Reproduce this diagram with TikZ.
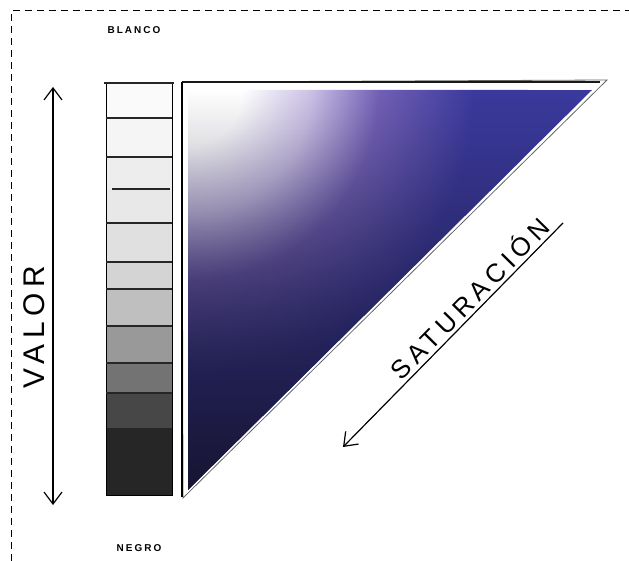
\documentclass[tikz,border=0pt]{standalone}
\usepackage{fontspec}
\setmainfont{Liberation Sans}
\newfontfamily\handfont{Liberation Sans}[LetterSpace=20]
\usetikzlibrary{arrows.meta,fadings}
\definecolor{satblue}{HTML}{3B3A9E}
\definecolor{satlilac}{HTML}{CCC2E8}
\definecolor{satpurple}{HTML}{7260B6}
\definecolor{satnavy}{HTML}{15132C}
\pgfdeclareradialshading{satglow}{\pgfpoint{0bp}{0bp}}{color(0bp)=(white); color(4bp)=(white); color(9bp)=(satlilac); color(14bp)=(satpurple); color(21bp)=(satblue); color(50bp)=(satblue)}
\tikzfading[name=darkdown, top color=transparent!100, middle color=transparent!70, bottom color=transparent!5]
\begin{document}
\begin{tikzpicture}[x=1bp,y=-1bp,
  valarrow/.style={line width=1.2bp, {Straight Barb[length=12bp,width=18bp]}-{Straight Barb[length=12bp,width=18bp]}},
  satarrow/.style={line width=1.2bp, -{Straight Barb[length=12bp,width=18bp]}},
  stepline/.style={line width=2bp, color=black!85},
  tag/.style={font=\handfont\bfseries\fontsize{10}{12}\selectfont, inner sep=0pt}]
\useasboundingbox (0,0) rectangle (629,561);
\draw[dash pattern=on 7bp off 5bp, line width=1bp] (11,561) -- (11,11) -- (629,11);
\node[tag] (blanco) at (134,30) {BLANCO};
\node[tag] (negro) at (139,548) {NEGRO};
\fill[black!2] (106,83) rectangle (172,118);
\fill[black!4] (106,118) rectangle (172,157);
\fill[black!7] (106,157) rectangle (172,189);
\fill[black!9] (106,189) rectangle (172,223);
\fill[black!12] (106,223) rectangle (172,262);
\fill[black!17] (106,262) rectangle (172,289);
\fill[black!25] (106,289) rectangle (172,326);
\fill[black!40] (106,326) rectangle (172,363);
\fill[black!55] (106,363) rectangle (172,393);
\fill[black!72] (106,393) rectangle (172,428);
\fill[black!85] (106,428) rectangle (172,495);
\draw[line width=1bp] (106,83) rectangle (172,495);
\draw[stepline] (104,83) -- (174,83);
\draw[stepline] (106,118) -- (172,118);
\draw[stepline] (106,157) -- (172,157);
\draw[stepline] (112,189) -- (170,189);
\draw[stepline] (106,223) -- (172,223);
\draw[stepline] (106,262) -- (172,262);
\draw[stepline] (106,289) -- (172,289);
\draw[stepline] (106,326) -- (172,326);
\draw[stepline] (106,363) -- (172,363);
\draw[stepline] (106,393) -- (172,393);
\begin{scope}
\clip (188,90) -- (592,90) -- (188,490) -- cycle;
\fill[satblue] (188,90) rectangle (592,490);
\shade[shading=satglow] (188,90) circle (340bp);
\fill[satnavy, path fading=darkdown] (188,90) rectangle (592,490);
\end{scope}
\draw[line width=0.8bp, black!60] (182,82) -- (607,80) -- (183,498) -- cycle;
\draw[line width=2bp, black!90] (182,82) -- (600,82);
\draw[line width=1.2bp] (182,82) -- (182,497);
\coordinate (valtop) at (53,87);
\coordinate (valbot) at (53,505);
\draw[valarrow] (valtop) -- (valbot);
\node[font=\handfont\fontsize{30}{30}\selectfont, rotate=90, inner sep=0pt] (valor) at (34,327) {VALOR};
\coordinate (sattop) at (563,223);
\coordinate (satbot) at (343,447);
\draw[satarrow] (sattop) -- node[pos=0.38, sloped, above, inner sep=3bp, font=\handfont\fontsize{26}{26}\selectfont] (satlabel) {SATURACIÓN} (satbot);
\end{tikzpicture}
\end{document}
